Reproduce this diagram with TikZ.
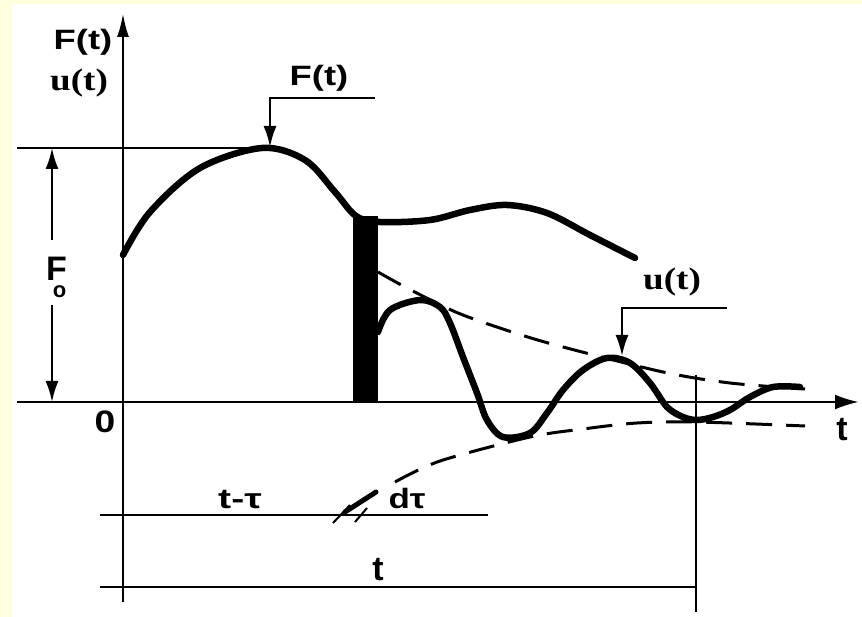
\documentclass[tikz,border=0pt]{standalone}
\usepackage{fontspec}
\newfontfamily\lsans{Liberation Sans}
\newfontfamily\lserif{Liberation Serif}
\usetikzlibrary{arrows.meta}
\definecolor{bgyellow}{RGB}{255,255,221}
\newcommand{\hs}[2]{\scalebox{#1}[1]{#2}}
\begin{document}
\begin{tikzpicture}[x=1pt,y=-1pt,
  thinln/.style={line width=2.2pt},
  axisln/.style={line width=2.8pt},
  curveln/.style={line width=6.5pt, line cap=round, line join=round},
  envln/.style={line width=3pt, dash pattern=on 26pt off 14pt},
  tipa/.style={-{Latex[length=21pt,width=13pt]}},
  lbl/.style={inner sep=0pt, font=\lsans\bfseries\fontsize{28}{28}\selectfont},
  bigl/.style={inner sep=0pt, font=\lsans\bfseries\fontsize{34}{34}\selectfont},
  slbl/.style={inner sep=0pt, font=\lserif\bfseries\fontsize{31}{31}\selectfont}]
\useasboundingbox (0,0) rectangle (862,617);
\fill[bgyellow] (0,0) rectangle (862,617);
\fill[white] (12,4) rectangle (862,617);

% labels
\node[lbl] (Fax) at (83,42) {\hs{1.3}{F(t)}};
\node[slbl] (uax) at (79,83) {\hs{1.2}{u(t)}};
\node[lbl] (Fpt) at (319,78) {\hs{1.3}{F(t)}};
\node[slbl] (upt) at (672,282) {\hs{1.2}{u(t)}};
\node[inner sep=0pt, font=\lsans\bfseries\fontsize{31}{31}\selectfont] (zero) at (105,422) {\hs{1.2}{0}};
\node[bigl] (tax) at (842,430) {t};
\node[bigl] (tdim) at (378,570) {t};
\node[lbl] (ttau) at (240,500) {\hs{1.4}{t-τ}};
\node[lbl] (dtau) at (407,498) {\hs{1.25}{dτ}};
\node[bigl, anchor=base west] (F0) at (46,281) {F\kern-14pt\raisebox{-17pt}{\fontsize{22}{22}\selectfont o}};

% axes
\coordinate (yb) at (123,602); \coordinate (yt) at (123,13);
\draw[axisln, -{Latex[length=24pt,width=12pt]}] (yb) -- (yt);
\coordinate (xl) at (17,402); \coordinate (xr) at (859,402);
\draw[axisln, -{Latex[length=24pt,width=15pt]}] (xl) -- (xr);

% F0 level and dimension
\coordinate (lvl) at (17,148); \coordinate (lvr) at (262,148);
\draw[thinln] (lvl) -- (lvr);
\coordinate (f0a) at (52,240); \coordinate (f0b) at (52,148);
\coordinate (f0c) at (52,305); \coordinate (f0d) at (52,402);
\draw[thinln, tipa] (f0a) -- (f0b);
\draw[thinln, tipa] (f0c) -- (f0d);

% pointers
\coordinate (pf1) at (375,98); \coordinate (pf2) at (270,98); \coordinate (pf3) at (270,147);
\draw[thinln, tipa] (pf1) -- (pf2) -- (pf3);
\coordinate (pu1) at (727,308); \coordinate (pu2) at (622,308); \coordinate (pu3) at (622,356);
\draw[thinln, tipa] (pu1) -- (pu2) -- (pu3);

% dimension lines
\coordinate (d1a) at (100,515); \coordinate (d1b) at (488,515);
\draw[thinln] (d1a) -- (d1b);
\coordinate (d2a) at (100,587); \coordinate (d2b) at (696,587);
\draw[thinln] (d2a) -- (d2b);
\coordinate (vt) at (696,375); \coordinate (vb) at (696,612);
\draw[thinln] (vt) -- (vb);

% impulse bar
\fill (353,216) rectangle (378,402);

% F(t) curve
\draw[curveln] plot[smooth, tension=0.55] coordinates {(123,255) (150,212) (200,168) (262,148) (305,160) (335,192) (356,216) (380,222) (430,220) (470,210) (507,205) (547,213) (590,235) (635,258)};

% response curve
\draw[curveln] plot[smooth, tension=0.55] coordinates {(378,332) (390,310) (420,300) (440,307) (450,323) (463,357) (477,393) (487,420) (503,437) (530,433) (547,413) (563,390) (583,370) (607,358) (630,363) (650,383) (667,407) (683,417) (697,420) (713,417) (730,410) (750,397) (773,387) (800,387)};

% envelopes
\draw[envln] plot[smooth] coordinates {(378,272) (407,288) (458,313) (515,333) (563,347) (663,372) (730,383) (805,389)};
\draw[envln] plot[smooth] coordinates {(395,482) (440,461) (530,437) (583,429) (637,423) (697,422) (805,426)};

% d tau marks
\draw[line width=5pt, line cap=round] (345,512) -- (376,492);
\draw[line width=2pt] (333,523) -- (350,505);
\draw[line width=2pt] (355,522) -- (367,508);
\end{tikzpicture}
\end{document}
